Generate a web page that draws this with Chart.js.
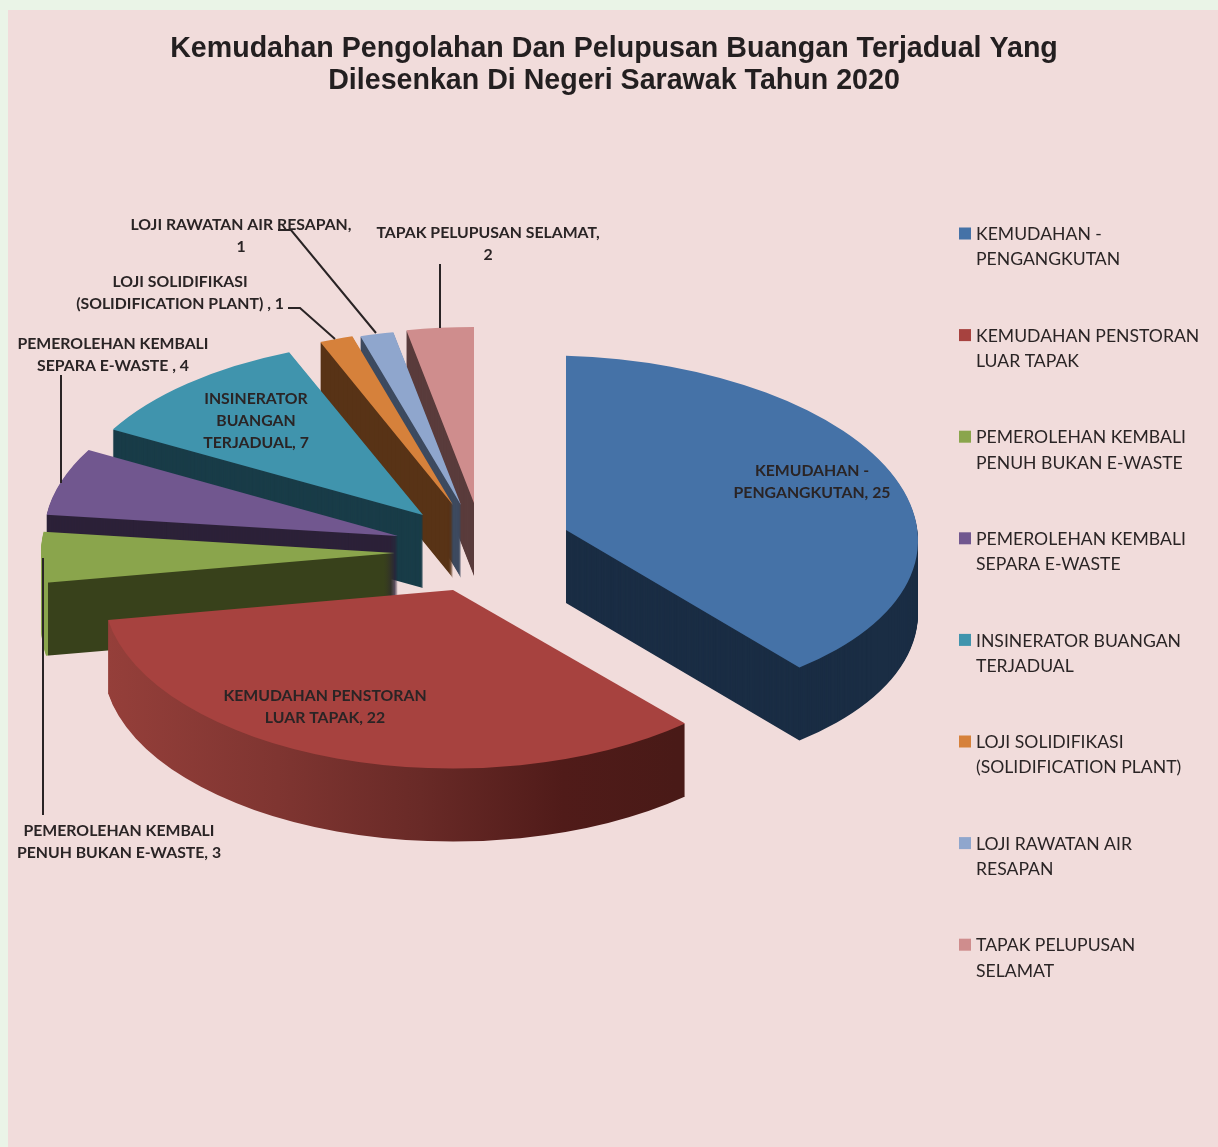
<!DOCTYPE html>
<html>
<head>
<meta charset="utf-8">
<script src="https://cdn.jsdelivr.net/npm/chart.js@4"></script>
<style>
html,body{margin:0;padding:0;width:1218px;height:1147px;overflow:hidden;background:#eaf4e7}
canvas{display:block;position:absolute;left:0;top:0}
</style>
</head>
<body>
<canvas id="c" width="1218" height="1147"></canvas>
<script>
const categories = ["KEMUDAHAN - PENGANGKUTAN","KEMUDAHAN PENSTORAN LUAR TAPAK","PEMEROLEHAN KEMBALI PENUH BUKAN E-WASTE","PEMEROLEHAN KEMBALI SEPARA E-WASTE","INSINERATOR BUANGAN TERJADUAL","LOJI SOLIDIFIKASI (SOLIDIFICATION PLANT)","LOJI RAWATAN AIR RESAPAN","TAPAK PELUPUSAN SELAMAT"];
const values = [25,22,3,4,7,1,1,2];
const titleLines = ["Kemudahan Pengolahan Dan Pelupusan Buangan Terjadual Yang","Dilesenkan Di Negeri Sarawak Tahun 2020"];
const legendLines = [["KEMUDAHAN -","PENGANGKUTAN"],["KEMUDAHAN PENSTORAN","LUAR TAPAK"],["PEMEROLEHAN KEMBALI","PENUH BUKAN E-WASTE"],["PEMEROLEHAN KEMBALI","SEPARA E-WASTE"],["INSINERATOR BUANGAN","TERJADUAL"],["LOJI SOLIDIFIKASI","(SOLIDIFICATION PLANT)"],["LOJI RAWATAN AIR","RESAPAN"],["TAPAK PELUPUSAN","SELAMAT"]];
const labelLines = [["KEMUDAHAN -","PENGANGKUTAN, 25"],["KEMUDAHAN PENSTORAN","LUAR TAPAK, 22"],["PEMEROLEHAN KEMBALI","PENUH BUKAN E-WASTE, 3"],["PEMEROLEHAN KEMBALI","SEPARA E-WASTE , 4"],["INSINERATOR","BUANGAN","TERJADUAL, 7"],["LOJI SOLIDIFIKASI","(SOLIDIFICATION PLANT) , 1"],["LOJI RAWATAN AIR RESAPAN,","1"],["TAPAK PELUPUSAN SELAMAT,","2"]];
const topColors = ["#4572a7","#a7423f","#8aa54c","#71578f","#4094ad","#d6813b","#8fa6cd","#cf8d8d"];
const wallColors = ["#1a2d44","#7a322f","#38411b","#2c2138","#193c48","#583316","#3d4a5f","#5a3c3c"];

// layout of the exploded 3D pie (styling, not data)
const apex = [[566,530],[453,590],[395,553],[398,536],[423,515],[453,505],[461,505],[474,503]];
const radiusX = [352,350,354,354,355,352,352,352];
const squash = [0.495,0.51,0.5,0.5,0.495,0.5,0.5,0.5];
const shear = [0.03,0,0,0,0,0,0,0];
const drawOrder = [7,6,5,4,3,2,1,0];
const DEPTH = 73;
const labelPos = [[812,471],[325,696],[119,831],[113,344],[256,399],[180,282],[241,225],[488,233]];
const leaders = [[[288,308],[300,308],[335,339]],[[278,230],[291,230],[376,333]],[[440,264],[440,328]],[[61,375],[61,483]],[[43,558],[43,815]]];
const INK = "#2a2425";

const pie3d = {
  id:"pie3d",
  beforeDraw(chart){
    const c = chart.ctx;
    c.save();
    c.fillStyle = "#f1dcdb";
    c.fillRect(8,10,1210,1137);
    c.restore();
  },
  beforeDatasetDraw(chart,args){
    const c = chart.ctx;
    const els = args.meta.data;
    drawOrder.forEach(i=>{
      const el = els[i];
      const s = radiusX[i]/el.outerRadius;
      const place = dy=>{
        c.translate(apex[i][0],apex[i][1]+dy);
        c.transform(1,shear[i],0,1,0,0);
        c.scale(s,s*squash[i]);
        c.translate(-el.x,-el.y);
      };
      const sx = x=>el.x+(x-apex[i][0])/s;
      const saved = el.options;
      let fill = wallColors[i];
      if(i===1){
        const g = c.createLinearGradient(sx(107),0,sx(677),0);
        g.addColorStop(0,"#953f3a");g.addColorStop(.3,"#7f3531");g.addColorStop(.55,"#692a27");g.addColorStop(.8,"#501b19");g.addColorStop(1,"#491a17");
        fill = g;
      }
      if(i===2){
        const g = c.createLinearGradient(sx(40),0,sx(56),0);
        g.addColorStop(0,topColors[2]);g.addColorStop(.5,topColors[2]);g.addColorStop(.52,wallColors[2]);g.addColorStop(1,wallColors[2]);
        fill = g;
      }
      el.options = Object.assign({},saved,{backgroundColor:fill,borderWidth:0});
      for(let d=DEPTH;d>0;d--){
        c.save();place(d);el.draw(c);c.restore();
      }
      el.options = Object.assign({},saved,{backgroundColor:topColors[i],borderWidth:0});
      c.save();place(0);el.draw(c);c.restore();
      el.options = saved;
    });
    return false;
  },
  afterDatasetsDraw(chart){
    const c = chart.ctx;
    c.save();
    c.strokeStyle = INK;c.lineWidth = 2;
    leaders.forEach(l=>{
      c.beginPath();
      l.forEach((p,k)=>k?c.lineTo(p[0],p[1]):c.moveTo(p[0],p[1]));
      c.stroke();
    });
    c.fillStyle = INK;
    c.textBaseline = "middle";
    c.textAlign = "center";
    c.font = "700 15.8px Lato";
    labelLines.forEach((lines,i)=>{
      lines.forEach((t,k)=>c.fillText(t,labelPos[i][0],labelPos[i][1]+k*22));
    });
    c.textAlign = "left";
    c.font = "400 17.6px Lato";
    legendLines.forEach((lines,i)=>{
      const y = 234.5+i*101.6;
      c.fillStyle = topColors[i];
      c.fillRect(959,y-7,12,12);
      c.fillStyle = INK;
      lines.forEach((t,k)=>c.fillText(t,976,y+k*25.2));
    });
    c.restore();
  }
};

new Chart(document.getElementById("c"),{
  type:"pie",
  data:{labels:categories,datasets:[{data:values,backgroundColor:topColors,borderWidth:0}]},
  plugins:[pie3d],
  options:{
    responsive:false,
    animation:false,
    layout:{padding:{left:10}},
    events:[],
    plugins:{
      legend:{display:false},
      tooltip:{enabled:false},
      title:{display:true,text:titleLines,color:"#231f20",align:"center",
        font:{family:"Liberation Sans",size:28.6,weight:"700",lineHeight:1.13},
        padding:{top:33,bottom:10}}
    }
  }
});
</script>
</body>
</html>
